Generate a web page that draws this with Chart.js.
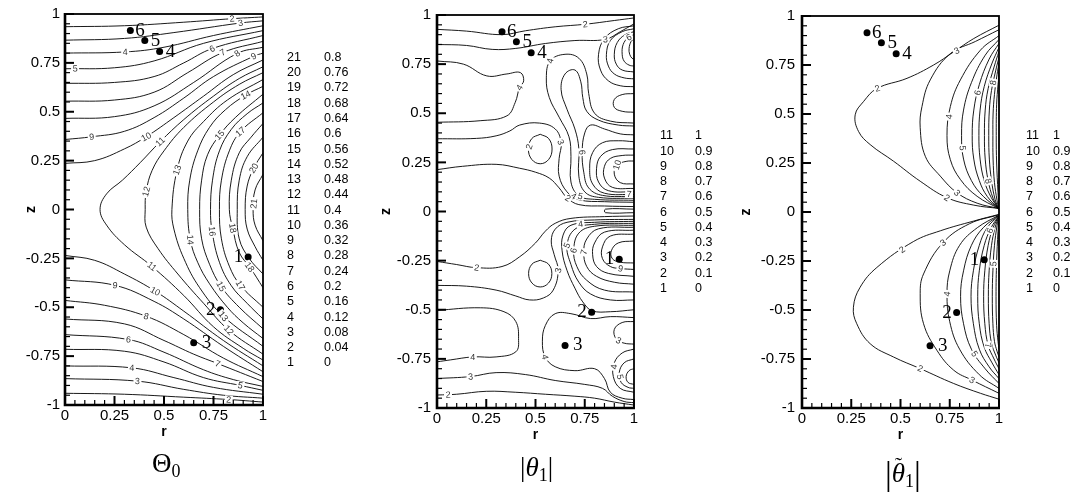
<!DOCTYPE html>
<html lang="en">
<head>
<meta charset="UTF-8">
<script src="https://cdn.jsdelivr.net/npm/chart.js"></script>
<title>Temperature contours</title>
<style>
  body { margin: 0; width: 1079px; height: 497px; background: #fff; position: relative; overflow: hidden; }
  canvas { position: absolute; top: 0; }
  .cap { position: absolute; font-family: "Liberation Serif", "DejaVu Serif", serif; font-size: 27px; line-height: 27px; color: #000; white-space: nowrap; }
  .cap sub { font-size: 18px; vertical-align: -0.3em; }
  .cap i { font-style: italic; }
  .acc { position: relative; display: inline-block; }
  .acc b { position: absolute; left: 3px; top: -9px; font-weight: normal; font-size: 22px; }
  .big { font-size: 34px; vertical-align: -3px; }
</style>
</head>
<body>
<canvas id="p0" width="360" height="497" style="left:0"></canvas>
<canvas id="p1" width="365" height="497" style="left:360px"></canvas>
<canvas id="p2" width="354" height="497" style="left:725px"></canvas>
<div class="cap" style="left:152px;top:450px">Θ<sub>0</sub></div>
<div class="cap" style="left:520px;top:454px">|<i>θ</i><sub>1</sub>|</div>
<div class="cap" style="left:885px;top:460px"><span class="big">|</span><span class="acc"><i>θ</i><b>˜</b></span><sub>1</sub><span class="big">|</span></div>
<script>
Chart.defaults.font.family = "'Liberation Sans', Arial, sans-serif";
Chart.defaults.color = '#000';

// axes
const rTicks = [0, 0.25, 0.5, 0.75, 1];
const rTickLabels = ['0', '0.25', '0.5', '0.75', '1'];
const zTicks = [-1, -0.75, -0.5, -0.25, 0, 0.25, 0.5, 0.75, 1];
const zTickLabels = ['-1', '-0.75', '-0.5', '-0.25', '0', '0.25', '0.5', '0.75', '1'];

// probe points (same in all panels)
const probeNames = ['1', '2', '3', '4', '5', '6'];
const probeR = [0.925, 0.785, 0.65, 0.478, 0.403, 0.33];
const probeZ = [-0.243, -0.513, -0.682, 0.808, 0.864, 0.915];

// contour level tables
const theta0Levels = ['21','20','19','18','17','16','15','14','13','12','11','10','9','8','7','6','5','4','3','2','1'];
const theta0Values = ['0.8','0.76','0.72','0.68','0.64','0.6','0.56','0.52','0.48','0.44','0.4','0.36','0.32','0.28','0.24','0.2','0.16','0.12','0.08','0.04','0'];
const theta1Levels = ['11','10','9','8','7','6','5','4','3','2','1'];
const theta1Values = ['1','0.9','0.8','0.7','0.6','0.5','0.4','0.3','0.2','0.1','0'];

// contour lines, flat r,z pairs
const theta0Lines = [
  [0,0.935, 0.3,0.94, 0.6,0.958, 0.844,0.976, 1,0.985],
  [0,0.866, 0.3,0.875, 0.55,0.905, 0.886,0.954, 1,0.965],
  [0,0.8, 0.304,0.806, 0.5,0.83, 0.75,0.89, 1,0.94],
  [0,0.72, 0.25,0.725, 0.45,0.76, 0.7,0.85, 1,0.915],
  [0,0.645, 0.25,0.65, 0.45,0.68, 0.6,0.75, 0.743,0.823, 1,0.89],
  [0,0.554, 0.25,0.56, 0.45,0.6, 0.62,0.7, 0.797,0.803, 1,0.86],
  [0,0.466, 0.25,0.475, 0.45,0.53, 0.65,0.65, 0.869,0.798, 1,0.83],
  [0,0.358, 0.135,0.372, 0.3,0.4, 0.45,0.47, 0.6,0.57, 0.75,0.68, 0.953,0.784, 1,0.8],
  [0,0.236, 0.15,0.25, 0.3,0.31, 0.41,0.372, 0.55,0.47, 0.7,0.58, 0.85,0.69, 1,0.765],
  [1,0.73, 0.88,0.67, 0.75,0.58, 0.6,0.46, 0.481,0.347, 0.38,0.24, 0.29,0.15, 0.21,0.08, 0.177,0, 0.21,-0.08, 0.3,-0.18, 0.439,-0.291, 0.6,-0.44, 0.75,-0.6, 0.9,-0.71, 1,-0.77],
  [1,0.7, 0.88,0.64, 0.75,0.55, 0.6,0.42, 0.5,0.3, 0.44,0.2, 0.41,0.092, 0.405,0, 0.41,-0.09, 0.47,-0.2, 0.57,-0.33, 0.7,-0.48, 0.827,-0.617, 1,-0.74],
  [1,0.665, 0.82,0.56, 0.7,0.45, 0.62,0.35, 0.566,0.202, 0.54,0, 0.55,-0.1, 0.6,-0.25, 0.68,-0.4, 0.8,-0.546, 1,-0.7],
  [1,0.63, 0.912,0.585, 0.81,0.51, 0.73,0.42, 0.67,0.3, 0.63,0.15, 0.62,0, 0.633,-0.155, 0.67,-0.27, 0.73,-0.38, 0.82,-0.5, 0.9,-0.58, 1,-0.66],
  [1,0.59, 0.86,0.47, 0.781,0.381, 0.72,0.28, 0.69,0.15, 0.68,0, 0.69,-0.15, 0.73,-0.28, 0.788,-0.393, 0.88,-0.5, 1,-0.61],
  [1,0.545, 0.92,0.49, 0.84,0.41, 0.78,0.3, 0.745,0.15, 0.735,0, 0.743,-0.112, 0.78,-0.27, 0.84,-0.39, 0.92,-0.48, 1,-0.56],
  [1,0.495, 0.886,0.398, 0.83,0.3, 0.79,0.15, 0.78,0, 0.79,-0.15, 0.83,-0.29, 0.886,-0.388, 1,-0.5],
  [1,0.44, 0.94,0.37, 0.88,0.29, 0.84,0.15, 0.83,0, 0.847,-0.095, 0.88,-0.22, 0.937,-0.3, 1,-0.4],
  [1,0.37, 0.92,0.27, 0.88,0.15, 0.87,0, 0.88,-0.15, 0.93,-0.25, 1,-0.33],
  [1,0.29, 0.953,0.211, 0.92,0.12, 0.91,0, 0.92,-0.1, 0.96,-0.19, 1,-0.26],
  [1,0.18, 0.96,0.1, 0.95,0, 0.96,-0.08, 1,-0.16],
  [0,-0.235, 0.15,-0.26, 0.3,-0.33, 0.456,-0.418, 0.6,-0.52, 0.8,-0.67, 1,-0.8],
  [0,-0.36, 0.253,-0.388, 0.45,-0.47, 0.6,-0.56, 0.8,-0.7, 1,-0.83],
  [0,-0.465, 0.2,-0.49, 0.41,-0.546, 0.6,-0.64, 0.8,-0.76, 1,-0.855],
  [0,-0.56, 0.3,-0.585, 0.5,-0.67, 0.65,-0.74, 0.771,-0.788, 1,-0.88],
  [0,-0.64, 0.32,-0.665, 0.5,-0.73, 0.7,-0.82, 0.85,-0.87, 1,-0.905],
  [0,-0.715, 0.3,-0.725, 0.5,-0.78, 0.7,-0.86, 0.886,-0.9, 1,-0.925],
  [0,-0.8, 0.338,-0.81, 0.55,-0.86, 0.75,-0.91, 1,-0.945],
  [0,-0.865, 0.366,-0.878, 0.6,-0.92, 0.8,-0.95, 1,-0.965],
  [0,-0.94, 0.3,-0.945, 0.6,-0.96, 0.827,-0.972, 1,-0.985]
];

const theta1Lines = [
  [0,0.927, 0.15,0.918, 0.33,0.9, 0.45,0.92, 0.6,0.94, 0.753,0.953, 0.9,0.972, 1,0.985],
  [0,0.85, 0.15,0.845, 0.28,0.825, 0.4,0.83, 0.55,0.855, 0.7,0.87, 0.855,0.876, 0.93,0.915, 1,0.955],
  [1,0.945, 0.92,0.93, 0.85,0.88, 0.82,0.8, 0.83,0.72, 0.87,0.665, 0.93,0.64, 1,0.635],
  [1,0.93, 0.94,0.915, 0.88,0.87, 0.86,0.8, 0.87,0.74, 0.9,0.7, 0.95,0.68, 1,0.675],
  [1,0.915, 0.955,0.9, 0.915,0.86, 0.9,0.8, 0.91,0.75, 0.94,0.72, 1,0.71],
  [1,0.9, 0.97,0.885, 0.945,0.85, 0.94,0.8, 0.95,0.765, 0.975,0.745, 1,0.74],
  [1,0.88, 0.985,0.865, 0.975,0.83, 0.978,0.8, 0.99,0.78, 1,0.775],
  [1,0.6, 0.94,0.595, 0.9,0.57, 0.9,0.53, 0.94,0.51, 1,0.505],
  [0,0.766, 0.134,0.75, 0.253,0.69, 0.355,0.7, 0.423,0.707, 0.44,0.665, 0.419,0.631, 0.397,0.555, 0.355,0.487, 0.219,0.462, 0,0.454],
  [0.524,0.393, 0.567,0.371, 0.584,0.318, 0.567,0.265, 0.524,0.243, 0.481,0.265, 0.464,0.318, 0.481,0.371, 0.524,0.393],
  [0,0.37, 0.2,0.372, 0.3,0.385, 0.37,0.41, 0.42,0.44, 0.52,0.45, 0.6,0.42, 0.63,0.35, 0.62,0.27, 0.62,0.18, 0.66,0.1, 0.72,0.06, 0.85,0.05, 1,0.047],
  [0,0.213, 0.13,0.23, 0.3,0.24, 0.42,0.22, 0.5,0.2, 0.57,0.17, 0.62,0.12, 0.66,0.07, 0.72,0.035, 0.85,0.028, 1,0.025],
  [1,0.057, 0.8,0.062, 0.72,0.08, 0.68,0.15, 0.68,0.28, 0.67,0.38, 0.62,0.48, 0.57,0.58, 0.555,0.68, 0.575,0.767, 0.65,0.8, 0.72,0.78, 0.76,0.7, 0.77,0.6, 0.8,0.5, 0.88,0.46, 1,0.45],
  [1,0.067, 0.82,0.072, 0.75,0.1, 0.72,0.18, 0.72,0.32, 0.7,0.42, 0.66,0.52, 0.63,0.62, 0.65,0.7, 0.7,0.72, 0.73,0.66, 0.74,0.58, 0.76,0.51, 0.82,0.465, 0.92,0.44, 1,0.435],
  [1,0.077, 0.84,0.082, 0.77,0.12, 0.745,0.2, 0.737,0.302, 0.75,0.4, 0.78,0.44, 0.85,0.42, 0.93,0.395, 1,0.39],
  [1,0.087, 0.85,0.093, 0.79,0.14, 0.775,0.22, 0.79,0.3, 0.84,0.35, 0.92,0.36, 1,0.355],
  [1,0.1, 0.87,0.106, 0.82,0.15, 0.81,0.22, 0.83,0.28, 0.89,0.315, 1,0.318],
  [1,0.117, 0.89,0.123, 0.85,0.17, 0.85,0.23, 0.88,0.27, 0.94,0.285, 1,0.287],
  [1,0.14, 0.93,0.147, 0.9,0.19, 0.914,0.237, 0.96,0.255, 1,0.257],
  [1,0.012, 0.855,0.012, 0.855,-0.006, 1,-0.006],
  [0,-0.254, 0.1,-0.27, 0.202,-0.286, 0.33,-0.28, 0.42,-0.23, 0.5,-0.16, 0.55,-0.1, 0.6,-0.06, 0.68,-0.035, 0.85,-0.026, 1,-0.023],
  [0.524,-0.248, 0.566,-0.268, 0.583,-0.316, 0.566,-0.364, 0.524,-0.384, 0.482,-0.364, 0.465,-0.316, 0.482,-0.268, 0.524,-0.248],
  [0,-0.376, 0.15,-0.38, 0.3,-0.4, 0.4,-0.43, 0.47,-0.45, 0.54,-0.44, 0.59,-0.4, 0.615,-0.3, 0.595,-0.22, 0.58,-0.15, 0.6,-0.09, 0.66,-0.055, 0.8,-0.043, 1,-0.04],
  [0,-0.503, 0.22,-0.49, 0.34,-0.51, 0.4,-0.56, 0.414,-0.647, 0.4,-0.714, 0.3,-0.74, 0.182,-0.74, 0.07,-0.755, 0,-0.765],
  [1,-0.05, 0.8,-0.055, 0.68,-0.07, 0.64,-0.12, 0.635,-0.2, 0.66,-0.3, 0.7,-0.39, 0.74,-0.46, 0.787,-0.505, 0.88,-0.51, 1,-0.5],
  [1,-0.06, 0.8,-0.065, 0.7,-0.09, 0.66,-0.173, 0.68,-0.27, 0.72,-0.36, 0.78,-0.42, 0.88,-0.45, 1,-0.45],
  [1,-0.07, 0.8,-0.075, 0.72,-0.11, 0.694,-0.198, 0.71,-0.28, 0.76,-0.35, 0.85,-0.4, 1,-0.41],
  [1,-0.08, 0.82,-0.088, 0.76,-0.14, 0.745,-0.207, 0.76,-0.28, 0.81,-0.33, 0.9,-0.36, 1,-0.37],
  [1,-0.095, 0.85,-0.105, 0.8,-0.16, 0.79,-0.22, 0.81,-0.28, 0.87,-0.315, 1,-0.33],
  [1,-0.115, 0.88,-0.125, 0.84,-0.18, 0.84,-0.24, 0.88,-0.28, 0.931,-0.29, 1,-0.295],
  [1,-0.15, 0.92,-0.16, 0.885,-0.2, 0.89,-0.24, 0.93,-0.258, 1,-0.262],
  [1,-0.54, 0.88,-0.535, 0.78,-0.545, 0.68,-0.52, 0.6,-0.52, 0.55,-0.58, 0.535,-0.66, 0.549,-0.74, 0.6,-0.79, 0.7,-0.81, 0.8,-0.8, 0.85,-0.85, 0.88,-0.92, 0.94,-0.95, 1,-0.957],
  [1,-0.56, 0.94,-0.565, 0.9,-0.6, 0.91,-0.65, 0.95,-0.67, 1,-0.675],
  [1,-0.7, 0.94,-0.72, 0.9,-0.77, 0.895,-0.84, 0.93,-0.9, 1,-0.92],
  [1,-0.75, 0.95,-0.77, 0.925,-0.82, 0.935,-0.87, 0.97,-0.895, 1,-0.9],
  [1,-0.8, 0.975,-0.81, 0.96,-0.84, 0.97,-0.87, 1,-0.88],
  [0,-0.85, 0.17,-0.84, 0.3,-0.82, 0.45,-0.83, 0.6,-0.86, 0.75,-0.88, 0.84,-0.9, 0.89,-0.94, 0.95,-0.967, 1,-0.973],
  [0,-0.934, 0.1,-0.93, 0.25,-0.915, 0.4,-0.92, 0.55,-0.93, 0.7,-0.94, 0.8,-0.95, 0.9,-0.97, 1,-0.985]
];

const thetaTLines = [
  [1,0.953, 0.872,0.885, 0.77,0.817, 0.668,0.75, 0.533,0.682, 0.38,0.63, 0.312,0.563, 0.27,0.496, 0.287,0.411, 0.346,0.344, 0.465,0.259, 0.6,0.157, 0.736,0.073, 0.872,0.035, 1,0.018],
  [1,0.93, 0.88,0.87, 0.753,0.808, 0.651,0.674, 0.609,0.538, 0.6,0.43, 0.626,0.284, 0.702,0.183, 0.787,0.098, 0.889,0.045, 1,0.018],
  [1,0.9, 0.906,0.826, 0.804,0.674, 0.753,0.538, 0.736,0.39, 0.753,0.267, 0.804,0.166, 0.889,0.08, 1,0.017],
  [1,0.88, 0.93,0.8, 0.86,0.66, 0.82,0.52, 0.81,0.39, 0.82,0.27, 0.86,0.16, 0.92,0.08, 1,0.016],
  [1,0.86, 0.95,0.78, 0.9,0.65, 0.872,0.52, 0.864,0.39, 0.872,0.27, 0.9,0.16, 0.94,0.08, 1,0.015],
  [1,0.84, 0.965,0.76, 0.925,0.64, 0.904,0.52, 0.898,0.39, 0.904,0.27, 0.925,0.16, 0.96,0.075, 1,0.014],
  [1,0.82, 0.975,0.74, 0.945,0.63, 0.93,0.52, 0.926,0.39, 0.93,0.27, 0.945,0.16, 0.97,0.07, 1,0.013],
  [1,0.79, 0.983,0.72, 0.962,0.62, 0.951,0.52, 0.948,0.39, 0.951,0.27, 0.962,0.16, 0.98,0.065, 1,0.012],
  [1,0.76, 0.99,0.7, 0.977,0.6, 0.97,0.5, 0.969,0.39, 0.97,0.27, 0.977,0.15, 0.99,0.06, 1,0.011],
  [1,0.72, 0.995,0.65, 0.988,0.55, 0.986,0.39, 0.988,0.25, 0.995,0.1, 1,0.01],
  [1,-0.012, 0.872,-0.046, 0.702,-0.096, 0.567,-0.15, 0.38,-0.283, 0.295,-0.384, 0.261,-0.486, 0.278,-0.57, 0.346,-0.672, 0.465,-0.74, 0.6,-0.799, 0.77,-0.875, 0.906,-0.925, 1,-0.955],
  [1,-0.014, 0.85,-0.06, 0.716,-0.156, 0.617,-0.316, 0.6,-0.417, 0.617,-0.57, 0.685,-0.706, 0.77,-0.807, 0.864,-0.858, 1,-0.925],
  [1,-0.016, 0.89,-0.08, 0.8,-0.17, 0.75,-0.3, 0.736,-0.42, 0.75,-0.56, 0.8,-0.7, 0.9,-0.83, 1,-0.9],
  [1,-0.017, 0.92,-0.08, 0.86,-0.17, 0.82,-0.3, 0.805,-0.43, 0.82,-0.57, 0.86,-0.7, 0.93,-0.8, 1,-0.875],
  [1,-0.018, 0.94,-0.08, 0.9,-0.17, 0.87,-0.3, 0.858,-0.43, 0.87,-0.57, 0.9,-0.7, 0.95,-0.79, 1,-0.85],
  [1,-0.019, 0.96,-0.08, 0.925,-0.17, 0.9,-0.3, 0.892,-0.43, 0.9,-0.57, 0.925,-0.69, 0.965,-0.77, 1,-0.83],
  [1,-0.02, 0.97,-0.08, 0.945,-0.17, 0.928,-0.3, 0.922,-0.43, 0.928,-0.57, 0.945,-0.68, 0.975,-0.75, 1,-0.8],
  [1,-0.021, 0.98,-0.08, 0.962,-0.17, 0.95,-0.3, 0.946,-0.43, 0.95,-0.57, 0.962,-0.67, 0.983,-0.73, 1,-0.77],
  [1,-0.022, 0.99,-0.07, 0.977,-0.17, 0.969,-0.3, 0.966,-0.43, 0.969,-0.57, 0.977,-0.66, 0.99,-0.71, 1,-0.74],
  [1,-0.023, 0.995,-0.1, 0.988,-0.25, 0.985,-0.43, 0.988,-0.58, 0.995,-0.66, 1,-0.7]
];

// inline contour labels: text, r, z
const theta0Tags = [
  ['2',0.844,0.976], ['3',0.886,0.954], ['4',0.304,0.806], ['5',0.051,0.718], ['6',0.743,0.823],
  ['7',0.797,0.803], ['8',0.869,0.798], ['9',0.953,0.784], ['14',0.912,0.585], ['9',0.135,0.372],
  ['10',0.41,0.372], ['11',0.481,0.347], ['15',0.781,0.381], ['17',0.886,0.398], ['13',0.566,0.202],
  ['20',0.953,0.211], ['12',0.41,0.092], ['21',0.955,0.03],
  ['14',0.633,-0.155], ['16',0.743,-0.112], ['18',0.847,-0.095], ['11',0.439,-0.291], ['18',0.937,-0.291],
  ['9',0.253,-0.388], ['10',0.456,-0.418], ['15',0.788,-0.393], ['17',0.886,-0.388], ['8',0.41,-0.546],
  ['13',0.8,-0.546], ['12',0.827,-0.617], ['6',0.32,-0.665], ['7',0.771,-0.788], ['4',0.338,-0.81],
  ['3',0.366,-0.878], ['5',0.886,-0.9], ['2',0.827,-0.972]
];
const theta1Tags = [
  ['2',0.753,0.953], ['3',0.855,0.876], ['6',0.975,0.886], ['4',0.575,0.767], ['4',0.419,0.631],
  ['2',0.465,0.33], ['3',0.626,0.352], ['6',0.737,0.302], ['10',0.914,0.237], ['4',0.69,0.075],
  ['5',0.73,0.09], ['2',0.66,0.06], ['7',0.975,0.09],
  ['4',0.728,-0.06], ['5',0.652,-0.173], ['6',0.694,-0.198], ['7',0.745,-0.207], ['3',0.615,-0.3],
  ['2',0.202,-0.286], ['9',0.931,-0.29], ['4',0.549,-0.74], ['4',0.182,-0.74], ['3',0.17,-0.84],
  ['2',0.056,-0.934], ['3',0.93,-0.64], ['4',0.9,-0.79], ['5',0.935,-0.84]
];
const thetaTTags = [
  ['2',0.377,0.648], ['3',0.796,0.8], ['4',0.744,0.487], ['5',0.813,0.326], ['6',0.889,0.609],
  ['8',0.97,0.66], ['3',0.787,0.098], ['2',0.736,0.073], ['8',0.945,0.157],
  ['2',0.507,-0.19], ['3',0.716,-0.156], ['4',0.736,-0.418], ['2',0.6,-0.799], ['3',0.864,-0.858],
  ['5',0.88,-0.722], ['7',0.945,-0.68], ['6',0.957,-0.096], ['5',0.97,-0.264]
];

// name placement next to each probe dot: dx, dy, align
const nameOffsets = { '1': [-5, 0, 'right'], '2': [-5, 0, 'right'], '3': [8, 0, 'left'],
                      '4': [6, 0, 'left'], '5': [6, 0, 'left'], '6': [5, 0, 'left'] };

const pairs = flat => {
  const out = [];
  for (let i = 0; i < flat.length; i += 2) out.push({ x: flat[i], y: flat[i + 1] });
  return out;
};

const extras = {
  id: 'extras',
  afterDatasetsDraw(chart, args, o) {
    const { ctx, chartArea: a, scales: { x, y } } = chart;
    const segs = [];
    chart.data.datasets.forEach((ds, i) => {
      if (!ds.showLine) return;
      const pts = chart.getDatasetMeta(i).data;
      for (let k = 0; k + 1 < pts.length; k++) segs.push([pts[k].x, pts[k].y, pts[k + 1].x, pts[k + 1].y]);
    });

    ctx.save();
    // contour labels, snapped onto the nearest line and turned along it
    ctx.font = '9px "Liberation Sans", Arial, sans-serif';
    ctx.textAlign = 'center';
    ctx.textBaseline = 'middle';
    o.tags.forEach(([t, r, z]) => {
      const px = x.getPixelForValue(r), py = y.getPixelForValue(z);
      let bx = px, by = py, ang = 0, bd = 1e9;
      segs.forEach(([x1, y1, x2, y2]) => {
        const dx = x2 - x1, dy = y2 - y1;
        const tt = Math.max(0, Math.min(1, ((px - x1) * dx + (py - y1) * dy) / (dx * dx + dy * dy || 1)));
        const qx = x1 + tt * dx, qy = y1 + tt * dy;
        const d = Math.hypot(qx - px, qy - py);
        if (d < bd) { bd = d; bx = qx; by = qy; ang = Math.atan2(dy, dx); }
      });
      if (bd > 8) { bx = px; by = py; }
      if (ang > Math.PI / 2) ang -= Math.PI;
      if (ang < -Math.PI / 2) ang += Math.PI;
      ctx.save();
      ctx.translate(bx, by);
      ctx.rotate(ang);
      const w = ctx.measureText(t).width;
      ctx.fillStyle = '#fff';
      ctx.fillRect(-w / 2 - 1.5, -4, w + 3, 8);
      ctx.fillStyle = '#333';
      ctx.fillText(t, 0, 0.5);
      ctx.restore();
    });

    // frame
    ctx.strokeStyle = '#000';
    ctx.lineWidth = 1.8;
    ctx.strokeRect(a.left, a.top, a.right - a.left, a.bottom - a.top);
    ctx.lineWidth = 2.6;
    ctx.beginPath();
    ctx.moveTo(a.left, a.top - 1);
    ctx.lineTo(a.left, a.bottom);
    ctx.lineTo(a.right + 1, a.bottom);
    ctx.stroke();

    // inward ticks, major every 0.25, minor every 0.05
    for (let k = 0; k <= 20; k++) {
      const v = k * 0.05, major = k % 5 === 0;
      const px = x.getPixelForValue(v);
      ctx.lineWidth = major ? 2 : 1.2;
      ctx.beginPath();
      ctx.moveTo(px, a.bottom);
      ctx.lineTo(px, a.bottom - (major ? 9 : 5));
      ctx.stroke();
    }
    for (let k = 0; k <= 40; k++) {
      const v = -1 + k * 0.05, major = k % 5 === 0;
      const py = y.getPixelForValue(v);
      ctx.lineWidth = major ? 2 : 1.2;
      ctx.beginPath();
      ctx.moveTo(a.left, py);
      ctx.lineTo(a.left + (major ? 9 : 5), py);
      ctx.stroke();
    }

    // probe names
    ctx.font = '19px "Liberation Serif", "DejaVu Serif", serif';
    ctx.fillStyle = '#000';
    ctx.textBaseline = 'middle';
    probeNames.forEach((n, i) => {
      const [dx, dy, al] = nameOffsets[n];
      ctx.textAlign = al;
      ctx.fillText(n, x.getPixelForValue(probeR[i]) + dx, y.getPixelForValue(probeZ[i]) + dy);
    });

    // level table
    ctx.font = '12.5px "Liberation Sans", Arial, sans-serif';
    ctx.textAlign = 'left';
    o.levels.forEach((lv, i) => {
      const yy = o.geo.rowY0 + i * 15.27;
      ctx.fillText(lv, o.geo.idxX, yy);
      ctx.fillText(o.values[i], o.geo.valX, yy);
    });
    ctx.restore();
  }
};

function makePanel(id, g, lines, tags, levels, values) {
  const datasets = lines.map(l => ({
    data: pairs(l), showLine: true, borderColor: '#000', borderWidth: 0.9,
    pointRadius: 0, tension: 0.4, fill: false
  }));
  datasets.push({
    data: probeR.map((r, i) => ({ x: r, y: probeZ[i] })), showLine: false,
    pointRadius: 3.5, backgroundColor: '#000', borderWidth: 0
  });
  new Chart(document.getElementById(id), {
    type: 'scatter',
    data: { datasets },
    options: {
      responsive: false,
      animation: false,
      events: [],
      layout: { padding: { left: 0, right: g.width - g.right, top: g.top, bottom: 497 - g.bottom - 40 } },
      plugins: { legend: { display: false }, tooltip: { enabled: false },
                 extras: { tags, levels, values, geo: g } },
      scales: {
        x: {
          type: 'linear', min: 0, max: 1,
          afterBuildTicks: s => { s.ticks = rTicks.map(v => ({ value: v })); },
          afterFit: s => { s.height = 40; },
          grid: { display: false, drawTicks: false },
          border: { display: false },
          ticks: { padding: 2, autoSkip: false, maxRotation: 0, font: { size: 15 },
                   callback: (v, i) => rTickLabels[i] },
          title: { display: true, text: 'r', font: { size: 14, weight: 'bold' }, padding: { top: 0, bottom: 4 } }
        },
        y: {
          type: 'linear', min: -1, max: 1,
          afterBuildTicks: s => { s.ticks = zTicks.map(v => ({ value: v })); },
          afterFit: s => { s.width = g.left; },
          grid: { display: false, drawTicks: false },
          border: { display: false },
          ticks: { padding: g.tickPad, autoSkip: false, font: { size: 15 },
                   callback: (v, i) => zTickLabels[i] },
          title: { display: true, text: 'z', font: { size: 14, weight: 'bold' }, padding: { top: g.zPad, bottom: 0 } }
        }
      }
    },
    plugins: [extras]
  });
}

makePanel('p0', { width: 360, left: 65, right: 263, top: 12, bottom: 405, tickPad: 5, zPad: 23,
                  idxX: 287, valX: 324, rowY0: 57.5 }, theta0Lines, theta0Tags, theta0Levels, theta0Values);
makePanel('p1', { width: 365, left: 77, right: 274, top: 14, bottom: 408, tickPad: 6, zPad: 18,
                  idxX: 300, valX: 335, rowY0: 135.8 }, theta1Lines, theta1Tags, theta1Levels, theta1Values);
makePanel('p2', { width: 354, left: 77, right: 274, top: 14, bottom: 408, tickPad: 7, zPad: 13,
                  idxX: 301, valX: 328, rowY0: 135.8 }, thetaTLines, thetaTTags, theta1Levels, theta1Values);
</script>
</body>
</html>
